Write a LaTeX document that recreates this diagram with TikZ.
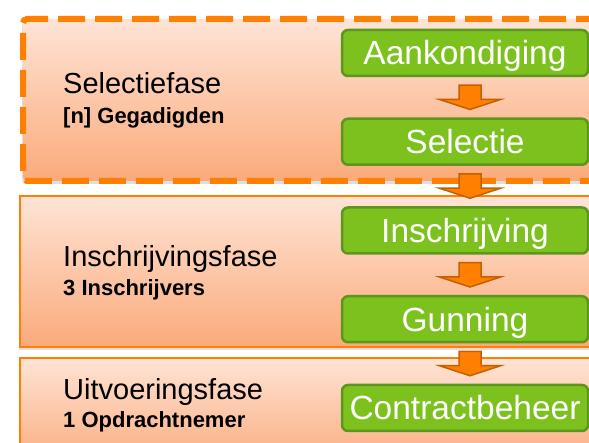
\documentclass[tikz,border=0pt]{standalone}
\usepackage{fontspec}
\setmainfont{Liberation Sans}
\usetikzlibrary{positioning, calc, shadows}

\definecolor{phaseorange}{RGB}{255,127,0}
\definecolor{phasetop}{RGB}{254,228,214}
\definecolor{phasebottom}{RGB}{251,170,122}
\definecolor{stagegreen}{RGB}{125,193,30}
\definecolor{stageedge}{RGB}{92,150,28}
\definecolor{arrowedge}{RGB}{196,96,0}

\tikzset{
	phasebox/.style={rectangle, anchor=north west, top color=phasetop, bottom color=phasebottom,
		draw=phaseorange, line width=2pt,
		drop shadow={shadow xshift=-1pt, shadow yshift=-3pt, opacity=.25}},
	stage/.style={rectangle, rounded corners=6pt, fill=stagegreen, draw=stageedge, line width=2.5pt,
		text=white, font=\fontsize{33.5}{36}\selectfont, minimum width=246pt, minimum height=46pt,
		inner sep=0pt, text height=24pt, text depth=0pt},
	phasetitle/.style={anchor=base west, inner sep=0pt, font=\fontsize{29}{32}\selectfont},
	phasesub/.style={anchor=base west, inner sep=0pt, font=\fontsize{22}{24}\selectfont\bfseries},
}

% block arrow from the bottom of one stage to the top of the next
\newcommand{\stagearrow}[2]{%
	\filldraw[fill=phaseorange, draw=arrowedge, line width=1.5pt, line join=miter]
	($(#1.south)+(-6,-8)$) -- ($(#2.north)+(-6,18)$) -- ($(#2.north)+(-25.5,18)$)
	-- ($(#2.north)+(5,8)$) -- ($(#2.north)+(35.5,18)$) -- ($(#2.north)+(16,18)$)
	-- ($(#1.south)+(16,-8)$) -- cycle;}

\begin{document}
\begin{tikzpicture}[x=1pt, y=1pt, node distance=88.75pt, on grid]
	\useasboundingbox (0,0) rectangle (589,443);

	% phases
	\node[phasebox, minimum width=581pt, minimum height=110pt] (uitfase) at (19,86) {};
	\node[phasebox, minimum width=581pt, minimum height=151pt] (insfase) at (19,248) {};
	\node[phasebox, minimum width=580pt, minimum height=162pt, line width=6pt, rounded corners=4pt,
		dash pattern=on 27pt off 10pt, dash phase=4pt] (selfase) at (20,427) {};

	\node[phasetitle] (seltitle) at (63,349) {Selectiefase};
	\node[phasesub] (selsub) at ([yshift=-30pt]seltitle.base west) {[n] Gegadigden};
	\node[phasetitle] (institle) at (63,176) {Inschrijvingsfase};
	\node[phasesub] (inssub) at ([yshift=-29pt]institle.base west) {3 Inschrijvers};
	\node[phasetitle] (uittitle) at (63,43) {Uitvoeringsfase};
	\node[phasesub] (uitsub) at ([yshift=-28pt]uittitle.base west) {1 Opdrachtnemer};

	% stages
	\node[stage] (aank) at (465,390) {Aankondiging};
	\node[stage, below=of aank] (sel) {Selectie};
	\node[stage, below=of sel] (insch) {Inschrijving};
	\node[stage, below=of insch] (gun) {Gunning};
	\node[stage, below=of gun] (contr) {Contractbeheer};

	\stagearrow{aank}{sel}
	\stagearrow{sel}{insch}
	\stagearrow{insch}{gun}
	\stagearrow{gun}{contr}
\end{tikzpicture}
\end{document}
